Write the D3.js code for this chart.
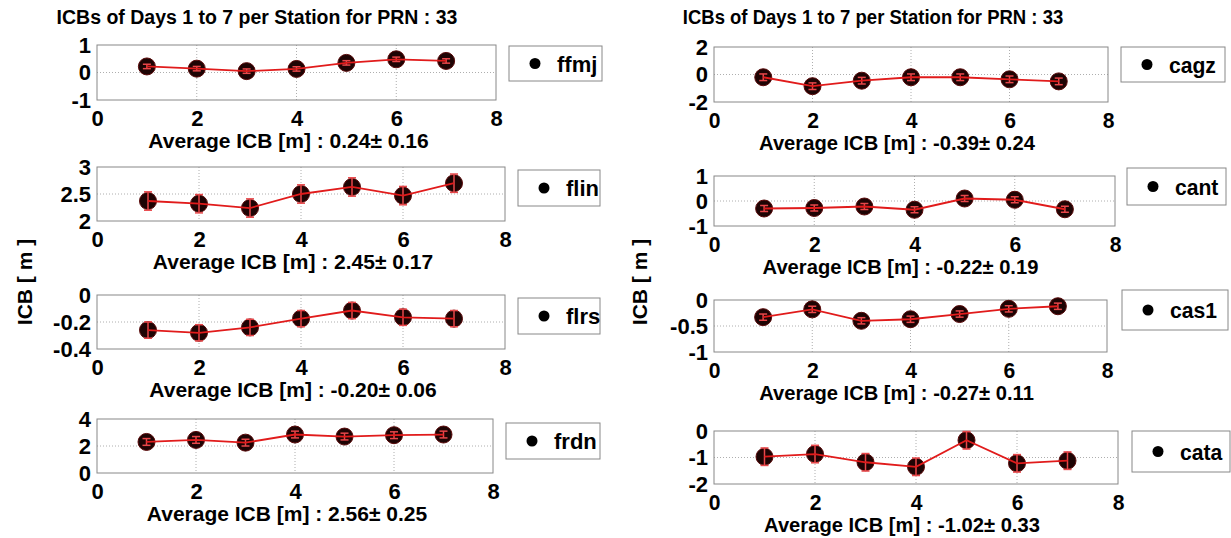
<!DOCTYPE html>
<html>
<head>
<meta charset="utf-8">
<script src="https://cdn.jsdelivr.net/npm/d3@7"></script>
<style>
  body { margin: 0; background: #fff; }
  svg { font-family: "Liberation Sans", Arial, sans-serif; }
  .tick-label { font-weight: bold; font-size: 22px; }
  .xlab { font-weight: bold; font-size: 21px; }
  .title { font-weight: bold; font-size: 19.5px; }
  .legend-text { font-weight: bold; font-size: 22px; }
</style>
</head>
<body>
<div id="chart"></div>
<script>
// days on x axis
const days = [1, 2, 3, 4, 5, 6, 7];
const xTicks = [0, 2, 4, 6, 8];
const titleText = "ICBs of Days 1 to 7 per Station for PRN : 33";

// station ICB values (m) and their error bars
const ffmj = [0.22, 0.14, 0.05, 0.13, 0.35, 0.48, 0.42];
const ffmjErr = [0.08, 0.08, 0.08, 0.08, 0.08, 0.08, 0.08];
const flin = [2.37, 2.32, 2.24, 2.50, 2.63, 2.47, 2.70];
const flinErr = [0.17, 0.17, 0.17, 0.17, 0.17, 0.17, 0.17];
const flrs = [-0.26, -0.28, -0.24, -0.175, -0.115, -0.165, -0.175];
const flrsErr = [0.06, 0.06, 0.06, 0.06, 0.06, 0.06, 0.06];
const frdn = [2.3, 2.45, 2.25, 2.85, 2.7, 2.8, 2.85];
const frdnErr = [0.25, 0.25, 0.25, 0.25, 0.25, 0.25, 0.25];
const cagz = [-0.2, -0.85, -0.45, -0.2, -0.2, -0.35, -0.5];
const cagzErr = [0.24, 0.24, 0.24, 0.24, 0.24, 0.24, 0.24];
const cant = [-0.3, -0.28, -0.22, -0.35, 0.1, 0.05, -0.33];
const cantErr = [0.12, 0.12, 0.12, 0.12, 0.12, 0.12, 0.12];
const cas1 = [-0.33, -0.18, -0.4, -0.37, -0.27, -0.17, -0.12];
const cas1Err = [0.06, 0.06, 0.06, 0.06, 0.06, 0.06, 0.06];
const cata = [-0.97, -0.87, -1.18, -1.35, -0.35, -1.22, -1.12];
const cataErr = [0.33, 0.33, 0.33, 0.33, 0.33, 0.33, 0.33];

const stationNames = ["ffmj", "flin", "flrs", "frdn", "cagz", "cant", "cas1", "cata"];
const stationValues = [ffmj, flin, flrs, frdn, cagz, cant, cas1, cata];
const stationErrors = [ffmjErr, flinErr, flrsErr, frdnErr, cagzErr, cantErr, cas1Err, cataErr];
const yTicks = [[-1, 0, 1], [2, 2.5, 3], [-0.4, -0.2, 0], [0, 2, 4],
                [-2, 0, 2], [-1, 0, 1], [-1, -0.5, 0], [-2, -1, 0]];
const averages = ["0.24± 0.16", "2.45± 0.17", "-0.20± 0.06", "2.56± 0.25",
                  "-0.39± 0.24", "-0.22± 0.19", "-0.27± 0.11", "-1.02± 0.33"];

// panel boxes: x0, x1, y0, y1, legend box, sx = horizontal text squeeze, dx = label shift
const boxes = [
  {x0: 97, x1: 496, y0: 45, y1: 100, lx: 509, lw: 93, ly: 46, lh: 35, sx: 1, dx: -8},
  {x0: 97, x1: 505, y0: 167, y1: 221, lx: 518, lw: 82, ly: 170, lh: 36, sx: 1, dx: -8},
  {x0: 97, x1: 505, y0: 295, y1: 349, lx: 518, lw: 82, ly: 298, lh: 36, sx: 1, dx: -8},
  {x0: 97, x1: 493, y0: 419, y1: 473, lx: 506, lw: 94, ly: 423, lh: 36, sx: 1, dx: -8},
  {x0: 714, x1: 1108, y0: 47, y1: 102, lx: 1121, lw: 104, ly: 47, lh: 35, sx: 0.96, dx: -14},
  {x0: 714, x1: 1115, y0: 176, y1: 226, lx: 1127, lw: 99, ly: 168, lh: 37, sx: 0.96, dx: -14},
  {x0: 714, x1: 1107, y0: 300, y1: 352, lx: 1122, lw: 106, ly: 290, lh: 40, sx: 0.96, dx: -14},
  {x0: 714, x1: 1118, y0: 431, y1: 484, lx: 1132, lw: 98, ly: 431, lh: 41, sx: 0.96, dx: -14}
];

const svg = d3.select("#chart").append("svg")
  .attr("width", 1231).attr("height", 538);

// text placed at (x, y) with horizontal squeeze sx
function addText(parent, x, y, sx, cls, anchor, str) {
  return parent.append("text").attr("class", cls)
    .attr("transform", "translate(" + x + "," + y + ") scale(" + sx + ",1)")
    .attr("text-anchor", anchor).text(str);
}

// titles and y labels
addText(svg, 257, 24, 1, "title", "middle", titleText);
addText(svg, 873, 24, 0.95, "title", "middle", titleText);
svg.append("text").attr("class", "xlab")
  .attr("transform", "translate(32,282) rotate(-90)")
  .attr("text-anchor", "middle").text("ICB [ m ]");
svg.append("text").attr("class", "xlab")
  .attr("transform", "translate(647,282) rotate(-90)")
  .attr("text-anchor", "middle").text("ICB [ m ]");

stationNames.forEach(function(name, i) {
  let b = boxes[i];
  let vals = stationValues[i];
  let errs = stationErrors[i];
  let yt = yTicks[i];

  let x = d3.scaleLinear().domain([0, 8]).range([b.x0, b.x1]);
  let y = d3.scaleLinear().domain([yt[0], yt[2]]).range([b.y1, b.y0]);

  let g = svg.append("g");

  // grid
  g.selectAll(".vgrid").data(xTicks.slice(1, -1)).enter().append("line")
    .attr("x1", d => x(d)).attr("x2", d => x(d))
    .attr("y1", b.y0).attr("y2", b.y1)
    .attr("stroke", "#999").attr("stroke-width", 0.8).attr("stroke-dasharray", "1,2");
  g.append("line")
    .attr("x1", b.x0).attr("x2", b.x1)
    .attr("y1", y(yt[1])).attr("y2", y(yt[1]))
    .attr("stroke", "#999").attr("stroke-width", 0.8).attr("stroke-dasharray", "1,2");

  g.append("rect").attr("x", b.x0).attr("y", b.y0)
    .attr("width", b.x1 - b.x0).attr("height", b.y1 - b.y0)
    .attr("fill", "none").attr("stroke", "#888").attr("stroke-width", 1);

  // axes labels
  let xAxis = d3.axisBottom(x).tickValues(xTicks).tickSize(0).tickPadding(10).tickFormat(d3.format("d"));
  let xg = g.append("g").attr("transform", "translate(0," + b.y1 + ")").call(xAxis);
  xg.select(".domain").remove();
  xg.selectAll("text").attr("class", "tick-label").attr("fill", "#000")
    .attr("transform", "scale(" + b.sx + ",1)");

  let yAxis = d3.axisLeft(y).tickValues(yt).tickSize(0).tickPadding(6)
    .tickFormat(d => String(d));
  let yg = g.append("g").attr("transform", "translate(" + b.x0 + ",0)").call(yAxis);
  yg.select(".domain").remove();
  yg.selectAll("text").attr("class", "tick-label").attr("fill", "#000");

  addText(g, (b.x0 + b.x1) / 2 + b.dx, b.y1 + 48, b.sx, "xlab", "middle",
    "Average ICB [m] : " + averages[i]);

  // markers
  g.selectAll(".pt").data(vals).enter().append("circle")
    .attr("cx", (d, j) => x(days[j])).attr("cy", d => y(d))
    .attr("r", 8.5).attr("fill", "#1e0404").attr("stroke", "#5a0a0a").attr("stroke-width", 1);

  // error bars
  let eb = g.selectAll(".eb").data(vals).enter().append("g");
  eb.append("line")
    .attr("x1", (d, j) => x(days[j])).attr("x2", (d, j) => x(days[j]))
    .attr("y1", (d, j) => y(d - errs[j])).attr("y2", (d, j) => y(d + errs[j]))
    .attr("stroke", "#e8474a").attr("stroke-width", 1.5);
  eb.append("line")
    .attr("x1", (d, j) => x(days[j]) - 4).attr("x2", (d, j) => x(days[j]) + 4)
    .attr("y1", (d, j) => y(d - errs[j])).attr("y2", (d, j) => y(d - errs[j]))
    .attr("stroke", "#e8474a").attr("stroke-width", 1.5);
  eb.append("line")
    .attr("x1", (d, j) => x(days[j]) - 4).attr("x2", (d, j) => x(days[j]) + 4)
    .attr("y1", (d, j) => y(d + errs[j])).attr("y2", (d, j) => y(d + errs[j]))
    .attr("stroke", "#e8474a").attr("stroke-width", 1.5);

  let line = d3.line().x((d, j) => x(days[j])).y(d => y(d));
  g.append("path").datum(vals).attr("d", line)
    .attr("fill", "none").attr("stroke", "#e11b1b").attr("stroke-width", 1.8);

  // legend
  g.append("rect").attr("x", b.lx).attr("y", b.ly).attr("width", b.lw).attr("height", b.lh)
    .attr("fill", "#fff").attr("stroke", "#888");
  g.append("circle").attr("cx", b.lx + 26).attr("cy", b.ly + b.lh / 2).attr("r", 5.5).attr("fill", "#000");
  addText(g, b.lx + 48, b.ly + b.lh / 2 + 8, b.sx, "legend-text", "start", name);
});
</script>
</body>
</html>
